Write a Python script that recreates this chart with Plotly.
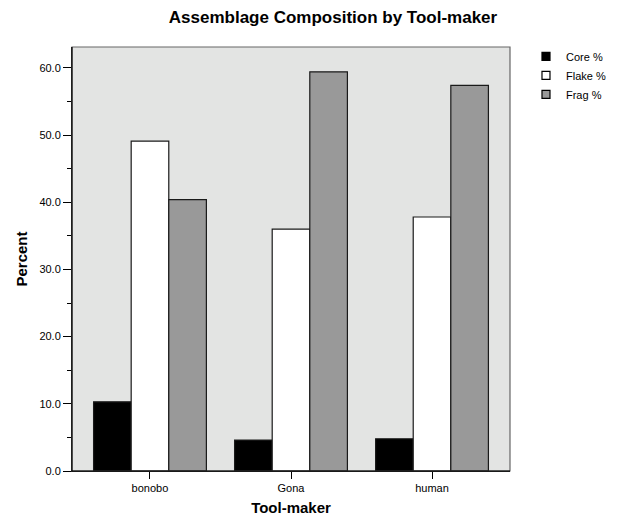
import plotly.graph_objects as go

categories = ["bonobo", "Gona", "human"]
core = [10.3, 4.6, 4.8]
flake = [49.1, 36.0, 37.8]
frag = [40.4, 59.4, 57.4]
series_names = ["Core %", "Flake %", "Frag %"]
colors = ["#000000", "#ffffff", "#999999"]
y_ticks = [0, 10, 20, 30, 40, 50, 60]
y_tick_labels = ["0.0", "10.0", "20.0", "30.0", "40.0", "50.0", "60.0"]

FONT = "Liberation Sans, Arial, sans-serif"

fig = go.Figure()
for name, vals, col in zip(series_names, [core, flake, frag], colors):
    fig.add_trace(go.Bar(
        x=categories, y=vals, name=name, showlegend=False,
        marker=dict(color=col, line=dict(color="#1a1a1a", width=1.2)),
    ))
    fig.add_trace(go.Scatter(
        x=[None], y=[None], mode="markers", name=name, showlegend=True,
        marker=dict(symbol="square", size=8, color=col, line=dict(color="#000000", width=1.2)),
    ))

W, H = 619, 516
L, T = 64, 39          # page body adds an ~8px offset
PW, PH = 438, 424

fig.update_layout(
    width=W, height=H,
    margin=dict(l=L, r=W - L - PW, t=T, b=H - T - PH, autoexpand=False),
    paper_bgcolor="white",
    plot_bgcolor="#e3e4e3",
    barmode="group",
    bargap=0.2,
    bargroupgap=0,
    font=dict(family=FONT, size=11, color="#000000"),
    title=dict(text="<b>Assemblage Composition by Tool-maker</b>",
               x=325 / W, xanchor="center", y=1 - 9 / H, yanchor="middle",
               font=dict(family=FONT, size=17, color="#000000")),
    legend=dict(x=1.0365, xanchor="left", y=1.012, yanchor="top",
                font=dict(family=FONT, size=11, color="#000000"),
                bgcolor="rgba(0,0,0,0)", itemwidth=30, tracegroupgap=0),
    xaxis=dict(
        range=[-0.553, 2.553], showgrid=False, zeroline=False, automargin=False,
        showline=True, linecolor="#000000", linewidth=1,
        ticks="outside", ticklen=7, tickcolor="#000000",
        tickfont=dict(family=FONT, size=11),
        title=dict(text="<b>Tool-maker</b>", font=dict(family=FONT, size=15), standoff=9),
    ),
    yaxis=dict(
        range=[0, 63.1], showgrid=False, zeroline=False, automargin=False,
        showline=True, linecolor="#000000", linewidth=1,
        tickmode="array", tickvals=y_ticks, ticktext=y_tick_labels,
        ticks="outside", ticklen=8, tickcolor="#000000",
        tickfont=dict(family=FONT, size=11),
        minor=dict(dtick=5, ticks="outside", ticklen=4, tickcolor="#000000", showgrid=False),
        title=dict(text="<b>Percent</b>", font=dict(family=FONT, size=15), standoff=8),
    ),
)

fig.add_shape(type="rect", xref="paper", yref="paper", x0=0, x1=1, y0=0, y1=1,
              line=dict(color="#666666", width=1.2), fillcolor="rgba(0,0,0,0)", layer="above")
fig.add_shape(type="line", xref="paper", yref="paper", x0=0, x1=0, y0=0, y1=1,
              line=dict(color="#000000", width=1), layer="above")
fig.add_shape(type="line", xref="paper", yref="paper", x0=0, x1=1, y0=0, y1=0,
              line=dict(color="#000000", width=1), layer="above")

fig.write_html("out.html")
